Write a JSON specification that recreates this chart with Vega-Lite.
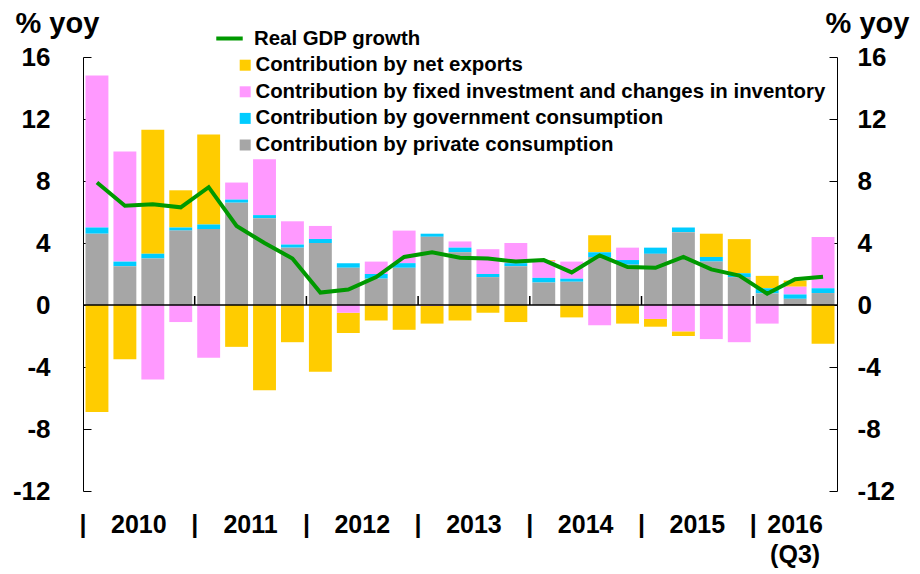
{
  "$schema": "https://vega.github.io/schema/vega-lite/v6.json",
  "width": 754,
  "height": 434,
  "autosize": {"type": "none"},
  "padding": {"left": 83, "top": 57, "right": 83, "bottom": 83},
  "background": "white",
  "config": {"view": {"stroke": null}, "font": "Liberation Sans"},
  "datasets": {
    "main": [
      {"q": "2010Q1", "private": 4.6, "gov": 0.4, "invest": 9.8, "netexp": -6.9, "gdp": 7.9},
      {"q": "2010Q2", "private": 2.5, "gov": 0.3, "invest": 7.1, "netexp": -3.5, "gdp": 6.4},
      {"q": "2010Q3", "private": 3.0, "gov": 0.3, "invest": -4.8, "netexp": 8.0, "gdp": 6.5},
      {"q": "2010Q4", "private": 4.8, "gov": 0.2, "invest": -1.1, "netexp": 2.4, "gdp": 6.3},
      {"q": "2011Q1", "private": 4.9, "gov": 0.3, "invest": -3.4, "netexp": 5.8, "gdp": 7.6},
      {"q": "2011Q2", "private": 6.6, "gov": 0.2, "invest": 1.1, "netexp": -2.7, "gdp": 5.1},
      {"q": "2011Q3", "private": 5.6, "gov": 0.2, "invest": 3.6, "netexp": -5.5, "gdp": 4.0},
      {"q": "2011Q4", "private": 3.7, "gov": 0.2, "invest": 1.5, "netexp": -2.4, "gdp": 3.0},
      {"q": "2012Q1", "private": 4.0, "gov": 0.26, "invest": 0.84, "netexp": -4.3, "gdp": 0.8},
      {"q": "2012Q2", "private": 2.4, "gov": 0.3, "invest": -0.5, "netexp": -1.3, "gdp": 1.0},
      {"q": "2012Q3", "private": 1.7, "gov": 0.3, "invest": 0.8, "netexp": -1.0, "gdp": 1.8},
      {"q": "2012Q4", "private": 2.4, "gov": 0.3, "invest": 2.1, "netexp": -1.6, "gdp": 3.1},
      {"q": "2013Q1", "private": 4.4, "gov": 0.2, "invest": -0.05, "netexp": -1.15, "gdp": 3.4},
      {"q": "2013Q2", "private": 3.4, "gov": 0.3, "invest": 0.4, "netexp": -1.0, "gdp": 3.05},
      {"q": "2013Q3", "private": 1.8, "gov": 0.2, "invest": 1.6, "netexp": -0.5, "gdp": 3.0},
      {"q": "2013Q4", "private": 2.5, "gov": 0.2, "invest": 1.3, "netexp": -1.1, "gdp": 2.8},
      {"q": "2014Q1", "private": 1.45, "gov": 0.3, "invest": 1.1, "netexp": 0.05, "gdp": 2.9},
      {"q": "2014Q2", "private": 1.5, "gov": 0.2, "invest": 1.1, "netexp": -0.8, "gdp": 2.1},
      {"q": "2014Q3", "private": 3.1, "gov": 0.3, "invest": -1.3, "netexp": 1.1, "gdp": 3.2},
      {"q": "2014Q4", "private": 2.6, "gov": 0.3, "invest": 0.8, "netexp": -1.2, "gdp": 2.45},
      {"q": "2015Q1", "private": 3.3, "gov": 0.4, "invest": -0.9, "netexp": -0.5, "gdp": 2.4},
      {"q": "2015Q2", "private": 4.7, "gov": 0.3, "invest": -1.7, "netexp": -0.3, "gdp": 3.1},
      {"q": "2015Q3", "private": 2.8, "gov": 0.3, "invest": -2.2, "netexp": 1.5, "gdp": 2.3},
      {"q": "2015Q4", "private": 1.8, "gov": 0.25, "invest": -2.4, "netexp": 2.2, "gdp": 1.9},
      {"q": "2016Q1", "private": 0.75, "gov": 0.33, "invest": -1.2, "netexp": 0.8, "gdp": 0.73},
      {"q": "2016Q2", "private": 0.4, "gov": 0.28, "invest": 0.5, "netexp": 0.4, "gdp": 1.66},
      {"q": "2016Q3", "private": 0.77, "gov": 0.31, "invest": 3.3, "netexp": -2.5, "gdp": 1.83}
    ]
  },
  "layer": [
    {
      "data": {"name": "main"},
      "transform": [
        {"fold": ["netexp", "invest", "gov", "private"], "as": ["component", "value"]},
        {"calculate": "indexof(['private','gov','invest','netexp'], datum.component)", "as": "ord"}
      ],
      "mark": {"type": "bar"},
      "encoding": {
        "x": {"field": "q", "type": "nominal", "axis": null, "scale": {"paddingInner": 0.18, "paddingOuter": 0.09}},
        "y": {
          "field": "value", "type": "quantitative", "stack": "zero",
          "scale": {"domain": [-12, 16], "nice": false, "zero": false},
          "axis": {
            "orient": "left", "values": [-12, -8, -4, 0, 4, 8, 12, 16], "grid": false,
            "labelExpr": "'' + datum.value",
            "domainColor": "black", "domainWidth": 1, "tickColor": "black", "tickSize": -8, "tickWidth": 1,
            "labelFont": "Liberation Sans", "labelFontSize": 26, "labelFontWeight": "bold", "labelColor": "black", "labelPadding": 41,
            "title": "% yoy", "titleAngle": 0, "titleAlign": "left", "titleBaseline": "alphabetic", "titleX": -68, "titleY": -25,
            "titleFont": "Liberation Sans", "titleFontSize": 29, "titleFontWeight": "bold", "titleColor": "black"
          }
        },
        "color": {
          "field": "component", "type": "nominal",
          "scale": {"domain": ["netexp", "invest", "gov", "private"], "range": ["#FFCC00", "#FF99FF", "#00CCFF", "#A6A6A6"]},
          "legend": {
            "orient": "none", "legendX": 152, "legendY": -2, "title": null, "padding": 0,
            "symbolType": "square", "symbolSize": 121, "symbolStrokeWidth": 0, "symbolOpacity": 1,
            "labelFont": "Liberation Sans", "labelFontSize": 20.4, "labelFontWeight": "bold", "labelColor": "black",
            "labelOffset": 0, "labelLimit": 0, "rowPadding": 5.6,
            "labelExpr": "{'netexp':'Contribution by net exports','invest':'Contribution by fixed investment and changes in inventory','gov':'Contribution by government consumption','private':'Contribution by private consumption'}[datum.label]"
          }
        },
        "order": {"field": "ord", "type": "quantitative", "sort": "ascending"}
      }
    },
    {
      "data": {"values": [{"z": 0}]},
      "mark": {"type": "rule", "color": "black", "strokeWidth": 1.5},
      "encoding": {
        "y": {"datum": 0, "type": "quantitative", "scale": {"domain": [-12, 16], "nice": false, "zero": false}, "axis": null}
      }
    },
    {
      "data": {"values": [{"q": "2011Q1"}, {"q": "2012Q1"}, {"q": "2013Q1"}, {"q": "2014Q1"}, {"q": "2015Q1"}, {"q": "2016Q1"}]},
      "mark": {"type": "rule", "color": "black", "strokeWidth": 1.5},
      "encoding": {
        "x": {"field": "q", "type": "nominal", "axis": null, "bandPosition": -0.11},
        "y": {"datum": 0, "type": "quantitative", "scale": {"domain": [-12, 16], "nice": false, "zero": false}, "axis": null},
        "y2": {"datum": 0.58}
      }
    },
    {
      "data": {"name": "main"},
      "mark": {"type": "line", "strokeWidth": 4},
      "encoding": {
        "x": {"field": "q", "type": "nominal", "axis": null},
        "y": {
          "field": "gdp", "type": "quantitative",
          "scale": {"domain": [-12, 16], "nice": false, "zero": false},
          "axis": {
            "orient": "right", "values": [-12, -8, -4, 0, 4, 8, 12, 16], "grid": false,
            "labelExpr": "'' + datum.value",
            "domainColor": "black", "domainWidth": 1, "tickColor": "black", "tickSize": -8, "tickWidth": 1,
            "labelFont": "Liberation Sans", "labelFontSize": 26, "labelFontWeight": "bold", "labelColor": "black", "labelPadding": 28,
            "title": "% yoy", "titleAngle": 0, "titleAlign": "center", "titleBaseline": "alphabetic", "titleX": 30, "titleY": -25,
            "titleFont": "Liberation Sans", "titleFontSize": 29, "titleFontWeight": "bold", "titleColor": "black"
          }
        },
        "stroke": {
          "datum": "Real GDP growth", "type": "nominal",
          "scale": {"range": ["#009900"]},
          "legend": {
            "orient": "none", "legendX": 131, "legendY": -34, "title": null, "padding": 0,
            "symbolType": "stroke", "symbolSize": 700, "symbolStrokeWidth": 4,
            "labelFont": "Liberation Sans", "labelFontSize": 20.4, "labelFontWeight": "bold", "labelColor": "black",
            "labelOffset": 9, "labelLimit": 0
          }
        }
      }
    },
    {
      "data": {"values": [
        {"q": "2010Q1", "t": "|"}, {"q": "2010Q3", "t": "2010"},
        {"q": "2011Q1", "t": "|"}, {"q": "2011Q3", "t": "2011"},
        {"q": "2012Q1", "t": "|"}, {"q": "2012Q3", "t": "2012"},
        {"q": "2013Q1", "t": "|"}, {"q": "2013Q3", "t": "2013"},
        {"q": "2014Q1", "t": "|"}, {"q": "2014Q3", "t": "2014"},
        {"q": "2015Q1", "t": "|"}, {"q": "2015Q3", "t": "2015"},
        {"q": "2016Q1", "t": "|"}
      ]},
      "mark": {"type": "text", "font": "Liberation Sans", "fontWeight": "bold", "fontSize": 25, "baseline": "alphabetic", "align": "center", "color": "black"},
      "encoding": {
        "x": {"field": "q", "type": "nominal", "axis": null, "bandPosition": -0.11},
        "y": {"datum": -14.73, "type": "quantitative", "scale": {"domain": [-12, 16], "nice": false, "zero": false}, "axis": null},
        "text": {"field": "t"}
      }
    },
    {
      "data": {"values": [{"q": "2016Q2", "t": "2016"}]},
      "mark": {"type": "text", "font": "Liberation Sans", "fontWeight": "bold", "fontSize": 25, "baseline": "alphabetic", "align": "center", "color": "black"},
      "encoding": {
        "x": {"field": "q", "type": "nominal", "axis": null},
        "y": {"datum": -14.73, "type": "quantitative", "scale": {"domain": [-12, 16], "nice": false, "zero": false}, "axis": null},
        "text": {"field": "t"}
      }
    },
    {
      "data": {"values": [{"q": "2016Q2", "t": "(Q3)"}]},
      "mark": {"type": "text", "font": "Liberation Sans", "fontWeight": "bold", "fontSize": 25, "baseline": "alphabetic", "align": "center", "color": "black"},
      "encoding": {
        "x": {"field": "q", "type": "nominal", "axis": null},
        "y": {"datum": -16.65, "type": "quantitative", "scale": {"domain": [-12, 16], "nice": false, "zero": false}, "axis": null},
        "text": {"field": "t"}
      }
    }
  ],
  "resolve": {"axis": {"y": "independent"}, "scale": {"y": "shared"}}
}
